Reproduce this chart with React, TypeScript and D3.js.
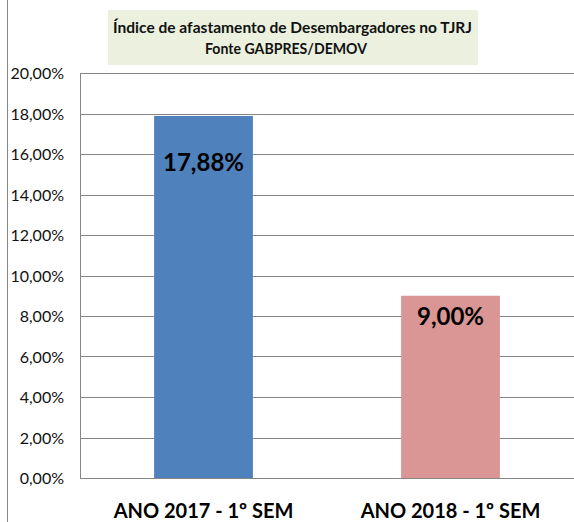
import React from "react";
import * as d3 from "d3";

const categories = ["ANO 2017 - 1º  SEM", "ANO 2018 - 1º SEM"];
const values = [17.88, 9.0];
const valueLabels = ["17,88%", "9,00%"];
const colors = ["#4f81bd", "#d99694"];
const ticks = [0, 2, 4, 6, 8, 10, 12, 14, 16, 18, 20];
const titleLines = ["Índice de afastamento  de Desembargadores no TJRJ", "Fonte  GABPRES/DEMOV"];

const W = 574;
const H = 522;
const font = "Lato, 'Open Sans', sans-serif";
const labelDy = [55, 29];
const titleX = [292.5, 286];
const titleLen = [359, 162];

export default function App() {
  const left = 80, right = 574, top = 73, bottom = 478;
  const y = d3.scaleLinear().domain([0, 20]).range([bottom, top]);
  const x = d3.scaleBand<string>().domain(categories).range([left, right]).paddingInner(0.6).paddingOuter(0.3);
  const fmt = (v: number) => v.toFixed(2).replace(".", ",") + "%";
  return (
    <svg width={W} height={H} style={{ position: "absolute", left: 0, top: 0, background: "#fff" }}>
      <line x1={7.5} x2={7.5} y1={0} y2={H} stroke="#888" strokeWidth={1} />
      <rect x={108} y={10} width={370} height={55} fill="#ebf1de" />
      {titleLines.map((t, i) => (
        <text key={i} x={titleX[i]} y={33 + i * 21} textAnchor="middle" fontFamily={font} fontWeight="bold" fontSize={15.5}
          textLength={titleLen[i]} lengthAdjust="spacingAndGlyphs" fill="#111">
          {t}
        </text>
      ))}
      {ticks.map((t) => (
        <g key={t}>
          <line x1={left} x2={right} y1={Math.round(y(t)) + 0.5} y2={Math.round(y(t)) + 0.5} stroke="#868686" strokeWidth={1} />
          <text x={64} y={y(t) + 6} textAnchor="end" fontFamily={font} fontSize={16} fill="#111">
            {fmt(t)}
          </text>
        </g>
      ))}
      <line x1={left + 0.5} x2={left + 0.5} y1={top} y2={bottom} stroke="#868686" strokeWidth={1} />
      {categories.map((c, i) => (
        <g key={c}>
          <rect x={x(c)} y={y(values[i])} width={x.bandwidth()} height={bottom - y(values[i])} fill={colors[i]} />
          <text x={(x(c) as number) + x.bandwidth() / 2} y={y(values[i]) + labelDy[i]} textAnchor="middle" fontFamily={font} fontWeight="bold" fontSize={24} fill="#000">
            {valueLabels[i]}
          </text>
          <text x={(x(c) as number) + x.bandwidth() / 2} y={518} textAnchor="middle" fontFamily={font} fontWeight="bold" fontSize={20} fill="#000">
            {c}
          </text>
        </g>
      ))}
    </svg>
  );
}
